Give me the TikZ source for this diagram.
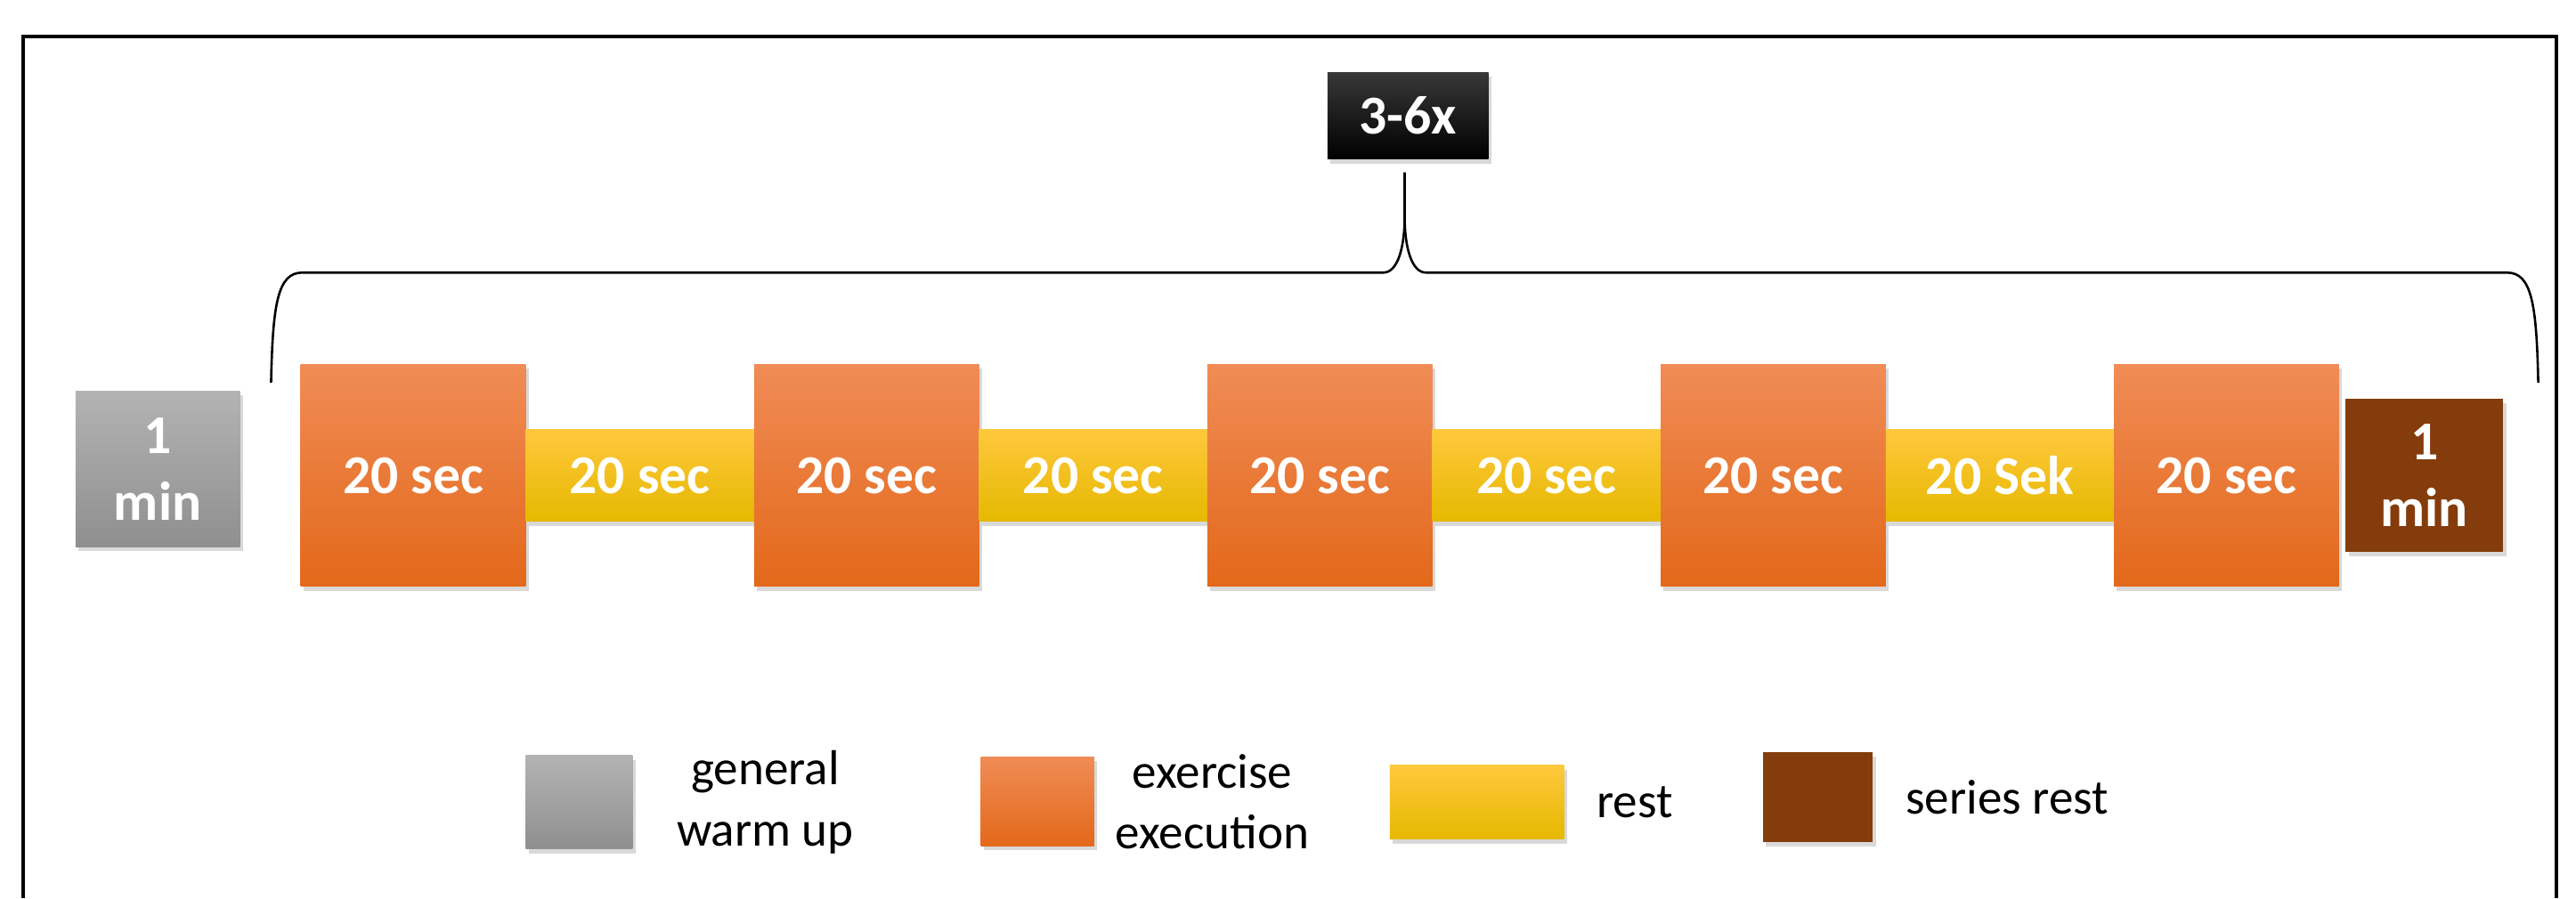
\documentclass[tikz,border=0pt]{standalone}
\usepackage{fontspec}
\setmainfont{Carlito}
\usetikzlibrary{positioning,shadows}
\definecolor{colorExTop}{HTML}{F08C56}
\definecolor{colorExMid}{HTML}{F37D2C}
\definecolor{colorExBot}{HTML}{E3681A}
\definecolor{colorReTop}{HTML}{FFC83D}
\definecolor{colorReMid}{HTML}{FFC700}
\definecolor{colorReBot}{HTML}{E6B800}
\definecolor{colorWuTop}{HTML}{B3B3B3}
\definecolor{colorWuBot}{HTML}{8F8F8F}
\definecolor{colorSr}{HTML}{843C0C}

\begin{document}
\begin{tikzpicture}[x=0.02cm,y=-0.02cm,node distance=0pt,every node/.append style={align=center,outer sep=0pt},
    blk/.style={inner sep=0pt,font=\fontsize{19}{23}\selectfont\bfseries,text=white,drop shadow={opacity=0.3,shadow xshift=1pt,shadow yshift=-1.5pt}},
    ex/.style={blk,minimum width=2.74cm,minimum height=2.7cm,top color=colorExTop,middle color=colorExMid,bottom color=colorExBot},
    rst/.style={blk,minimum width=2.78cm,minimum height=1.12cm,top color=colorReTop,middle color=colorReMid,bottom color=colorReBot},
    warm/.style={blk,minimum width=2cm,minimum height=1.9cm,top color=colorWuTop,bottom color=colorWuBot},
    srest/.style={blk,minimum width=1.92cm,minimum height=1.86cm,fill=colorSr},
    legtext/.style={inner sep=0pt,font=\fontsize{17}{21}\selectfont}]
    \useasboundingbox (0,0) rectangle (1568,547);
    \draw[line width=1.2pt] (14,547) -- (14,22) -- (1556,22) -- (1556,547);
    % repetitions
    \node [blk, minimum width=1.96cm, minimum height=1.06cm, top color=black!78, bottom color=black] (reps) at (857,70.5) {3-6x};
    \coordinate (bL) at (165,233);
    \coordinate (bR) at (1545,233);
    \coordinate (tip) at (855,105);
    \draw[line width=0.8pt] (bL) .. controls (166,185) and (169,166) .. (184,166) -- (842,166) .. controls (851,166) and (855,150) .. (855,132) -- (tip);
    \draw[line width=0.8pt] (855,132) .. controls (855,150) and (859,166) .. (868,166) -- (1526,166) .. controls (1541,166) and (1544,185) .. (bR);
    % row
    \node [warm] (wu) at (96,285.5) {1\\min};
    \node [ex] (ex1) at (251.5,289.5) {20 sec};
    \node [rst, right=of ex1] (re1) {20 sec};
    \node [ex, right=of re1] (ex2) {20 sec};
    \node [rst, right=of ex2] (re2) {20 sec};
    \node [ex, right=of re2] (ex3) {20 sec};
    \node [rst, right=of ex3] (re3) {20 sec};
    \node [ex, right=of re3] (ex4) {20 sec};
    \node [rst, right=of ex4] (re4) {20 Sek};
    \node [ex, right=of re4] (ex5) {20 sec};
    \node [srest, right=0.08cm of ex5] (sr) {1\\min};
    % legend
    \node [warm, minimum width=1.3cm, minimum height=1.14cm] (lg1) at (352.5,488.5) {};
    \node [legtext, right=0.54cm of lg1] (lt1) {general\\warm up};
    \node [ex, minimum width=1.38cm, minimum height=1.08cm] (lg2) at (631.5,488) {};
    \node [legtext, right=0.26cm of lg2] (lt2) {exercise\\execution};
    \node [rst, minimum width=2.12cm, minimum height=0.9cm] (lg3) at (899,488.5) {};
    \node [legtext, right=0.4cm of lg3] (lt3) {rest};
    \node [srest, minimum width=1.34cm, minimum height=1.1cm] (lg4) at (1106.5,485.5) {};
    \node [legtext, right=0.4cm of lg4] (lt4) {series rest};
\end{tikzpicture}
\end{document}
